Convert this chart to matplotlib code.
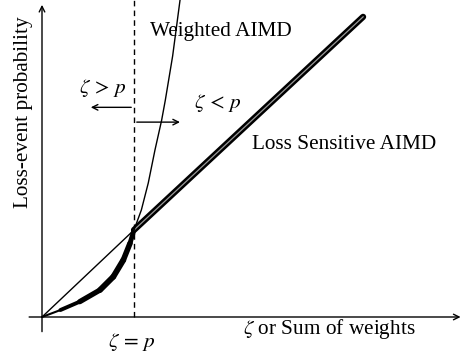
import matplotlib.pyplot as plt

plt.rcParams['font.family'] = ['Liberation Serif', 'DejaVu Serif']
plt.rcParams['mathtext.fontset'] = 'stix'

# curve points, x in units of p, y in units of the crossing value
low_x = [0, 0.2, 0.41, 0.63, 0.775, 0.884, 0.957, 1.0]
low_y = [0, 0.08, 0.176, 0.31, 0.463, 0.655, 0.848, 1.0]
weighted_x = [1.0, 1.08, 1.155, 1.228, 1.30, 1.34, 1.42, 1.5]
weighted_y = [1.0, 1.23, 1.54, 1.92, 2.26, 2.49, 3.0, 3.64]
loss_x = [1.0, 3.49]
loss_y = [1.0, 3.45]
diag_x = [0, 1.0]
diag_y = [0, 1.0]
low_widths = [1.5, 2.8, 3.8, 4.2, 4.2, 4.0, 3.5]

fig = plt.figure(figsize=(4.66, 3.56), dpi=100)
ax = fig.add_axes([0, 0, 1, 1])
ax.set_xlim(-42 / 92, 424 / 92)
ax.set_ylim(-39 / 87, 317 / 87)
ax.axis('off')

# axes with arrows
ax.annotate('', xy=(4.58, 0), xytext=(-0.17, 0),
            arrowprops=dict(arrowstyle='->', lw=1.0, color='black'))
ax.annotate('', xy=(0, 3.62), xytext=(0, -0.2),
            arrowprops=dict(arrowstyle='->', lw=1.0, color='black'))

# dashed p line
ax.plot([1, 1], [0, 3.7], ls=(0, (4, 3)), color='black', lw=1.0)

# thick lower part of the loss sensitive curve, tapering to the origin
for i in range(len(low_x) - 1):
    ax.plot(low_x[i:i + 2], low_y[i:i + 2], color='black', lw=low_widths[i],
            solid_capstyle='round')

# straight upper part with a light centre stripe
ax.plot(loss_x, loss_y, color='black', lw=4.5, solid_capstyle='round')
ax.plot(loss_x, loss_y, color='#9a9a9a', lw=0.9)
ax.plot(diag_x, diag_y, color='black', lw=1.0)
ax.plot(weighted_x, weighted_y, color='black', lw=1.0)

# direction arrows
ax.annotate('', xy=(0.5, 2.41), xytext=(1, 2.41),
            arrowprops=dict(arrowstyle='->', lw=1.0, color='black'))
ax.annotate('', xy=(1.53, 2.24), xytext=(1, 2.24),
            arrowprops=dict(arrowstyle='->', lw=1.0, color='black'))

fs = 15.3
ax.text(1.17, 3.28, 'Weighted AIMD', fontsize=fs, va='center', ha='left')
ax.text(0.66, 2.63, r'$\zeta\,>\,p$', fontsize=fs, va='center', ha='center')
ax.text(1.91, 2.46, r'$\zeta\,<\,p$', fontsize=fs, va='center', ha='center')
ax.text(2.28, 1.98, 'Loss Sensitive AIMD', fontsize=fs, va='center', ha='left')
ax.text(0.98, -0.29, r'$\zeta\,=\,p$', fontsize=fs, va='center', ha='center')
ax.text(2.18, -0.14, r'$\zeta$ or Sum of weights', fontsize=fs, va='center', ha='left')
ax.text(-0.2, 2.35, 'Loss-event probability', fontsize=fs, va='center',
        ha='center', rotation=90)

fig.savefig('out.png', dpi=100)
